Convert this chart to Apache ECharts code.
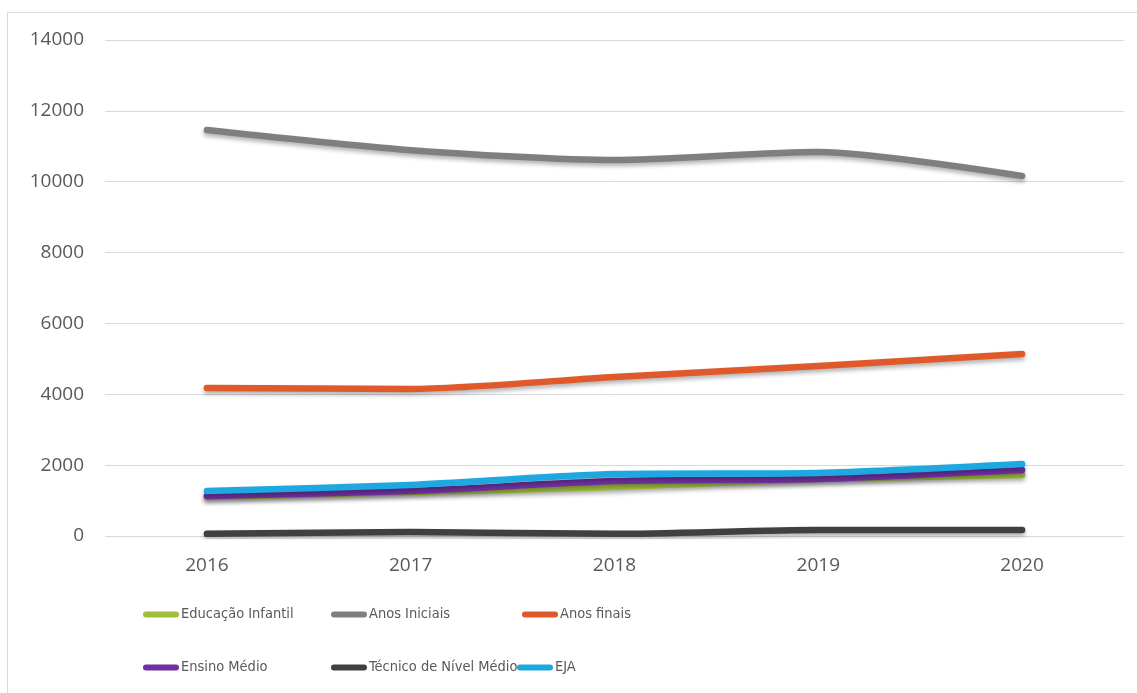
<!DOCTYPE html>
<html>
<head>
<meta charset="utf-8">
<script src="https://cdn.jsdelivr.net/npm/echarts@6/dist/echarts.min.js"></script>
<style>
html,body{margin:0;padding:0;background:#fff;}
#chart{width:1137px;height:693px;}
</style>
</head>
<body>
<div id="chart"></div>
<script>
const categories = ['2016', '2017', '2018', '2019', '2020'];
const seriesNames = ['Educação Infantil', 'Anos Iniciais', 'Anos finais', 'Ensino Médio', 'Técnico de Nível Médio', 'EJA'];
const educacaoInfantil = [1100, 1240, 1380, 1610, 1720];
const anosIniciais = [11460, 10890, 10610, 10840, 10160];
const anosFinais = [4180, 4150, 4490, 4800, 5140];
const ensinoMedio = [1130, 1270, 1550, 1610, 1860];
const tecnico = [60, 110, 60, 170, 170];
const eja = [1270, 1440, 1750, 1780, 2030];
const yTicks = { min: 0, max: 14000, interval: 2000 };

const values = [educacaoInfantil, anosIniciais, anosFinais, ensinoMedio, tecnico, eja];
const colors = ['#9fbe3c', '#7f7f7f', '#e0592a', '#7030a0', '#404040', '#1ea7e0'];
const legendPos = [
  [143, 607], [331, 607], [522, 607],
  [143, 660], [331, 660], [517, 660]
];

const chart = echarts.init(document.getElementById('chart'));
const iconPath = 'path://M3,0 H33 A3,3 0 0 1 33,6 H3 A3,3 0 0 1 3,0 Z';
chart.setOption({
  backgroundColor: '#ffffff',
  animation: false,
  graphic: [{
    type: 'rect',
    shape: { x: 7.5, y: 12.5, width: 1200, height: 800 },
    style: { fill: 'none', stroke: '#d9d9d9', lineWidth: 1 },
    silent: true
  }],
  grid: { left: 105, right: 13, top: 40, bottom: 157, containLabel: false },
  xAxis: {
    type: 'category',
    data: categories,
    boundaryGap: true,
    axisLine: { show: false },
    axisTick: { show: false },
    axisLabel: { color: '#595959', fontSize: 19, fontFamily: 'Open Sans', margin: 20 }
  },
  yAxis: {
    type: 'value',
    min: yTicks.min, max: yTicks.max, interval: yTicks.interval,
    axisLine: { show: false },
    axisTick: { show: false },
    splitLine: { lineStyle: { color: '#d9d9d9', width: 1 } },
    axisLabel: { color: '#595959', fontSize: 19, fontFamily: 'Open Sans', margin: 21, formatter: v => String(v) }
  },
  legend: seriesNames.map((n, i) => ({
    data: [n],
    left: legendPos[i][0],
    top: legendPos[i][1],
    padding: 0,
    itemWidth: 36,
    itemHeight: 6,
    icon: iconPath,
    textStyle: { color: '#595959', fontSize: 14.5, fontFamily: '"DejaVu Sans Condensed", "Liberation Sans"', padding: [0, 0, 0, -3] }
  })),
  series: seriesNames.map((n, i) => ({
    name: n,
    type: 'line',
    data: values[i],
    smooth: 0.25,
    symbol: 'none',
    color: colors[i],
    lineStyle: {
      width: 6.5, color: colors[i], cap: 'round', join: 'round',
      shadowColor: 'rgba(0,0,0,0.3)', shadowBlur: 4, shadowOffsetY: 3
    },
    z: 2 + i
  }))
});
</script>
</body>
</html>
